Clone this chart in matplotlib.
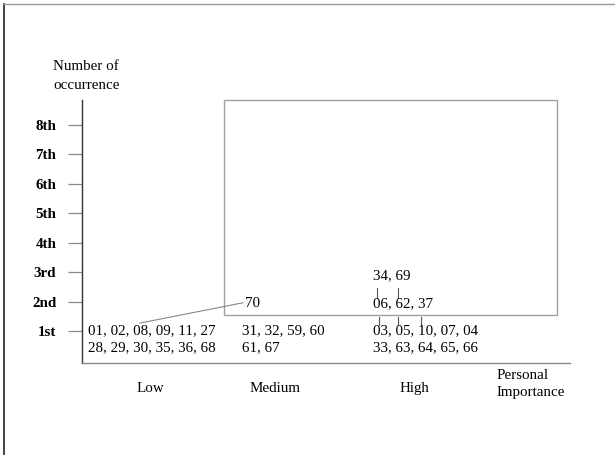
import matplotlib
matplotlib.use('Agg')
import matplotlib.pyplot as plt
from matplotlib.lines import Line2D
from matplotlib.patches import Rectangle

plt.rcParams['font.family'] = ['Liberation Serif', 'DejaVu Serif']

# data
rank_labels = ['1st', '2nd', '3rd', '4th', '5th', '6th', '7th', '8th']
ranks = [1, 2, 3, 4, 5, 6, 7, 8]
categories = ['Low', 'Medium', 'High']

first_low = ['01, 02, 08, 09, 11, 27', '28, 29, 30, 35, 36, 68']
first_medium = ['31, 32, 59, 60', '61, 67']
first_high = ['03, 05, 10, 07, 04', '33, 63, 64, 65, 66']
second_medium = ['70']
second_high = ['06, 62, 37']
third_high = ['34, 69']

# layout (x is pixels right of the y axis)
cat_x = [68, 193, 332]
text_x = {'Low': 6, 'Medium': 160, 'High': 291}
fs = 10.8
W, H = 615, 455

fig = plt.figure(figsize=(W / 100, H / 100), dpi=100)
ax = fig.add_axes([82 / W, 1 - 363 / H, (570 - 82) / W, (363 - 100) / H])
ax.set_xlim(0, 488)
ax.set_ylim(-0.087, 8.85)

for s in ['top', 'right']:
    ax.spines[s].set_visible(False)
ax.spines['left'].set_color('#333333')
ax.spines['left'].set_linewidth(1.0)
ax.spines['bottom'].set_color('#888888')
ax.spines['bottom'].set_linewidth(1.0)

ax.set_yticks(ranks)
ax.set_yticklabels(rank_labels, fontweight='bold', fontsize=10.8)
ax.tick_params(axis='y', length=10, width=0.9, color='#888888', pad=8.5)
ax.set_xticks(cat_x)
ax.set_xticklabels(categories, fontsize=fs)
ax.tick_params(axis='x', length=0, pad=13.5)

ax.text(415, -0.80, 'Personal\nImportance', fontsize=fs, ha='left', va='center',
        linespacing=1.45, clip_on=False)

# the big box
ax.add_patch(Rectangle((142, 1.54), 333, 8.85 - 1.54, fill=False,
                       edgecolor='#a0a0a0', lw=1.0, clip_on=False))


def put(lines, cat, rank):
    for i, t in enumerate(lines):
        ax.text(text_x[cat] + (3 if rank > 1 and cat == 'Medium' else 0),
                rank - 0.58 * i, t, fontsize=fs, ha='left', va='center')


put(first_low, 'Low', 1)
put(first_medium, 'Medium', 1)
put(first_high, 'High', 1)
put(second_medium, 'Medium', 1.93)
put(second_high, 'High', 1.93)
put(third_high, 'High', 2.87)

# connectors
lc = '#555555'
ax.plot([58, 161], [1.27, 1.96], color='#888888', lw=0.8)
for x in [297, 316, 339]:
    ax.plot([x, x], [1.48, 1.2], color=lc, lw=0.8)
for x in [295, 316]:
    ax.plot([x, x], [2.46, 2.12], color=lc, lw=0.8)

# y axis title
fig.text(53 / W, 1 - 76 / H, 'Number of\noccurrence', fontsize=10.8,
         ha='left', va='center', linespacing=1.55)

# scan frame
fig.add_artist(Line2D([4 / W, 4 / W], [0, 1 - 4 / H], color='#222222', lw=1.2))
fig.add_artist(Line2D([4 / W, 1], [1 - 4 / H, 1 - 4 / H], color='#999999', lw=1.0))

fig.savefig('out.png', dpi=100)
